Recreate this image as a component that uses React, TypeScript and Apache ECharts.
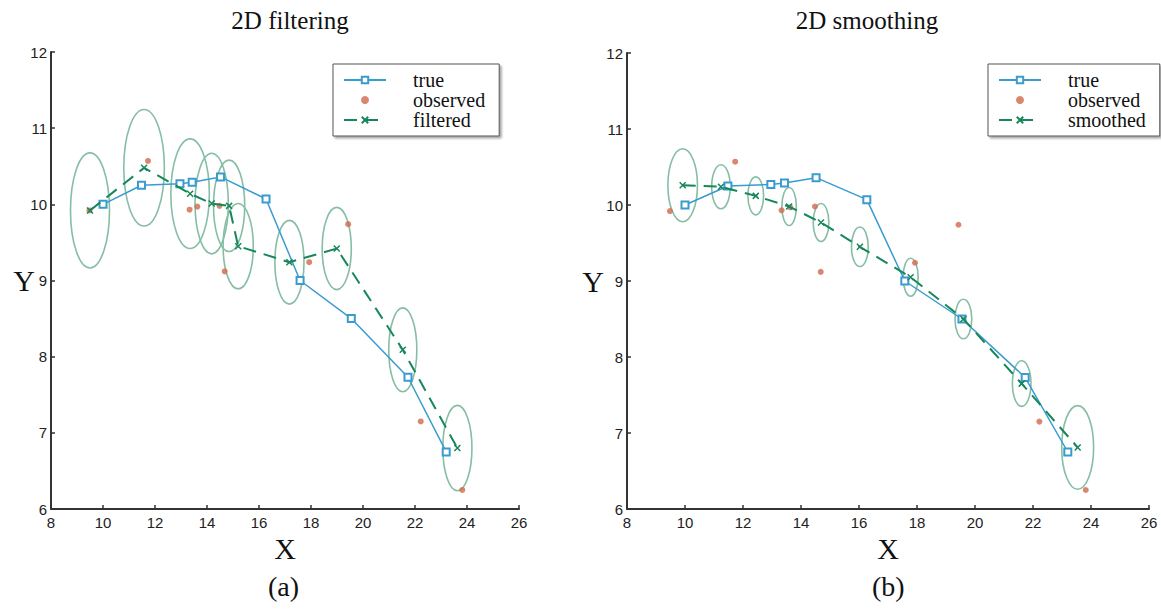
import React, { useEffect, useRef } from "react";
import * as echarts from "echarts";

// ---- data ----
const trueX = [10, 11.48, 12.96, 13.43, 14.52, 16.27, 17.58, 19.55, 21.73, 23.2];
const trueY = [10.0, 10.25, 10.27, 10.29, 10.36, 10.07, 9.0, 8.5, 7.73, 6.75];

const obsX = [9.48, 11.73, 13.33, 13.63, 14.48, 14.68, 17.93, 19.43, 22.22, 23.82];
const obsY = [9.92, 10.57, 9.93, 9.97, 9.98, 9.12, 9.24, 9.74, 7.15, 6.25];

const filtX = [9.5, 11.58, 13.35, 14.18, 14.85, 15.2, 17.17, 18.99, 21.53, 23.63];
const filtY = [9.92, 10.48, 10.14, 10.01, 9.98, 9.45, 9.24, 9.42, 8.09, 6.8];
const filtRx = [0.75, 0.78, 0.74, 0.64, 0.6, 0.58, 0.56, 0.56, 0.54, 0.56];
const filtRy = [0.755, 0.765, 0.72, 0.66, 0.6, 0.56, 0.55, 0.54, 0.55, 0.56];

const smoX = [9.92, 11.24, 12.44, 13.59, 14.69, 16.03, 17.78, 19.6, 21.61, 23.54];
const smoY = [10.26, 10.24, 10.12, 9.98, 9.77, 9.45, 9.05, 8.5, 7.65, 6.81];
const smoRx = [0.51, 0.32, 0.27, 0.25, 0.27, 0.29, 0.26, 0.29, 0.32, 0.55];
const smoRy = [0.48, 0.29, 0.25, 0.25, 0.25, 0.26, 0.25, 0.26, 0.3, 0.55];

const panelTitles = ["2D filtering", "2D smoothing"];
const estimateNames = ["filtered", "smoothed"];
const panelLabels = ["(a)", "(b)"];

// ---- styles ----
const SERIF = "'Liberation Serif', 'Times New Roman', serif";
const SANS = "'Liberation Sans Narrow', 'Arial Narrow', 'Liberation Sans', Arial, sans-serif";
const BLUE = "#3a9bd0";
const RED = "#d2694a";
const GREEN = "#17875a";
const ELLIPSE = "#86bea5";

const pairs = (xs: number[], ys: number[]) => xs.map((x, i) => [x, ys[i]]);
const quads = (xs: number[], ys: number[], rx: number[], ry: number[]) =>
  xs.map((x, i) => [x, ys[i], rx[i], ry[i]]);

const renderEllipse = (params: any, api: any) => {
  const c = api.coord([api.value(0), api.value(1)]);
  const s = api.size([api.value(2), api.value(3)]);
  return {
    type: "ellipse",
    shape: { cx: c[0], cy: c[1], rx: s[0], ry: s[1] },
    style: { fill: "none", stroke: ELLIPSE, lineWidth: 1.6 },
  };
};

function axisX(gridIndex: number) {
  return {
    type: "value",
    gridIndex,
    min: 8,
    max: 26,
    interval: 2,
    name: "X",
    nameLocation: "middle",
    nameGap: 24,
    nameMoveOverlap: false,
    nameTextStyle: { fontFamily: SERIF, fontSize: 30, color: "#111" },
    axisLine: { show: true, onZero: false, lineStyle: { color: "#333", width: 2 } },
    axisTick: { show: true, inside: true, length: 4, lineStyle: { color: "#333", width: 1.5 } },
    axisLabel: { fontFamily: SANS, fontSize: 15, color: "#222", margin: 6 },
    splitLine: { show: false },
  };
}

function axisY(gridIndex: number, nameGap: number) {
  return {
    type: "value",
    gridIndex,
    min: 6,
    max: 12,
    interval: 1,
    name: "Y",
    nameLocation: "middle",
    nameRotate: 0,
    nameGap,
    nameMoveOverlap: false,
    nameTextStyle: { fontFamily: SERIF, fontSize: 30, color: "#111" },
    axisLine: { show: true, onZero: false, lineStyle: { color: "#333", width: 2 } },
    axisTick: { show: true, inside: true, length: 4, lineStyle: { color: "#333", width: 1.5 } },
    axisLabel: { fontFamily: SANS, fontSize: 15, color: "#222", margin: 4 },
    splitLine: { show: false },
  };
}

function legend(left: number, estName: string) {
  return {
    left,
    top: 64,
    orient: "vertical",
    padding: [6, 14, 6, 10],
    itemGap: 0,
    itemWidth: 42,
    itemHeight: 8,
    borderColor: "#555",
    borderWidth: 1,
    borderRadius: 0,
    backgroundColor: "#fff",
    shadowColor: "rgba(0,0,0,0.35)",
    shadowOffsetX: 2,
    shadowOffsetY: 2,
    shadowBlur: 2,
    selectedMode: false,
    textStyle: { fontFamily: SERIF, fontSize: 20, color: "#111", lineHeight: 19.5, padding: [0, 0, 0, 22] },
    data: ["true", "observed", estName],
  };
}

function panelSeries(idx: number, ex: number[], ey: number[], erx: number[], ery: number[]) {
  return [
    {
      type: "custom",
      name: estimateNames[idx] + " covariance",
      xAxisIndex: idx,
      yAxisIndex: idx,
      renderItem: renderEllipse,
      encode: { x: 0, y: 1 },
      data: quads(ex, ey, erx, ery),
      z: 1,
      silent: true,
    },
    {
      type: "line",
      name: "true",
      xAxisIndex: idx,
      yAxisIndex: idx,
      data: pairs(trueX, trueY),
      symbol: "emptyRect",
      symbolSize: 7,
      showAllSymbol: true,
      lineStyle: { color: BLUE, width: 1.5 },
      itemStyle: { color: BLUE, borderColor: BLUE, borderWidth: 1.3 },
      z: 3,
    },
    {
      type: "scatter",
      name: "observed",
      xAxisIndex: idx,
      yAxisIndex: idx,
      data: pairs(obsX, obsY),
      symbol: "circle",
      symbolSize: 6,
      itemStyle: { color: RED },
      z: 4,
    },
    {
      type: "line",
      name: estimateNames[idx],
      xAxisIndex: idx,
      yAxisIndex: idx,
      data: pairs(ex, ey),
      symbol: "path://M0 0L10 10M10 0L0 10",
      symbolSize: 6,
      showAllSymbol: true,
      lineStyle: { color: GREEN, width: 2, type: [13, 8] },
      itemStyle: { color: GREEN, borderColor: GREEN, borderWidth: 1.5 },
      z: 5,
    },
  ];
}

export default function App() {
  const ref = useRef<HTMLDivElement>(null);
  useEffect(() => {
    if (!ref.current) return;
    const chart = echarts.init(ref.current, undefined, { renderer: "svg" });
    const option: any = {
      animation: false,
      backgroundColor: "#fff",
      title: [
        {
          text: panelTitles[0],
          left: 285,
          top: 3,
          textAlign: "center",
          textStyle: { fontFamily: SERIF, fontSize: 25, fontWeight: "normal", color: "#111" },
        },
        {
          text: panelTitles[1],
          left: 862,
          top: 3,
          textAlign: "center",
          textStyle: { fontFamily: SERIF, fontSize: 25, fontWeight: "normal", color: "#111" },
        },
      ],
      legend: [legend(333, estimateNames[0]), legend(988, estimateNames[1])],
      grid: [
        { left: 51, top: 52, width: 468, height: 457 },
        { left: 627, top: 53, width: 522, height: 456 },
      ],
      xAxis: [axisX(0), axisX(1)],
      yAxis: [axisY(0, 16), axisY(1, 23)],
      series: [
        ...panelSeries(0, filtX, filtY, filtRx, filtRy),
        ...panelSeries(1, smoX, smoY, smoRx, smoRy),
      ],
      graphic: [
        {
          type: "text",
          left: 268,
          top: 572,
          style: { text: panelLabels[0], fontFamily: SERIF, fontSize: 28, fill: "#111" },
        },
        {
          type: "text",
          left: 872,
          top: 572,
          style: { text: panelLabels[1], fontFamily: SERIF, fontSize: 28, fill: "#111" },
        },
      ],
    };
    chart.setOption(option);
    return () => chart.dispose();
  }, []);
  return (
    <div
      ref={ref}
      style={{ position: "absolute", left: 0, top: 0, width: 1161, height: 610, background: "#fff" }}
    />
  );
}
